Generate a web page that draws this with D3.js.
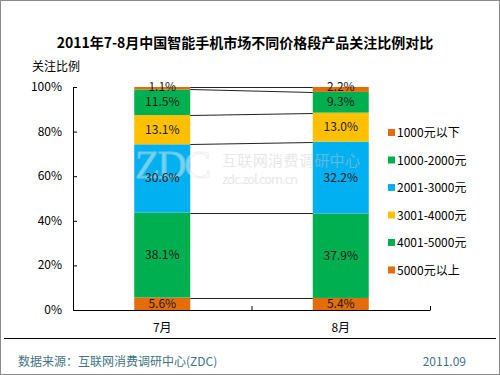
<!DOCTYPE html>
<html><head><meta charset="utf-8">
<script src="https://cdn.jsdelivr.net/npm/d3@7"></script>
<style>body{margin:0;background:#fff;}svg{display:block;}</style>
</head><body>
<script>
const categories = ["7月", "8月"];
// stack order bottom -> top
const seriesNames = ["5000元以上", "4001-5000元", "2001-3000元", "3001-4000元", "1000-2000元", "1000元以下"];
const seriesColors = ["#E46C0A", "#00B050", "#00B0F0", "#FFC000", "#00B050", "#E46C0A"];
const valuesJul = [5.6, 38.1, 30.6, 13.1, 11.5, 1.1];
const valuesAug = [5.4, 37.9, 32.2, 13.0, 9.3, 2.2];
const legendOrder = ["1000元以下", "1000-2000元", "2001-3000元", "3001-4000元", "4001-5000元", "5000元以上"];
const legendColors = ["#E46C0A", "#00B050", "#00B0F0", "#FFC000", "#00B050", "#E46C0A"];
const yTicks = [0, 20, 40, 60, 80, 100];
const title = "2011年7-8月中国智能手机市场不同价格段产品关注比例对比";
const yTitle = "关注比例";
const source = "数据来源：互联网消费调研中心(ZDC)";
const dateText = "2011.09";

const W = 500, H = 375;
const font = "'Noto Sans CJK SC', 'Liberation Sans', Arial, sans-serif";
const svg = d3.select("body").append("svg").attr("width", W).attr("height", H)
  .style("font-family", font);

svg.append("rect").attr("x", 0.5).attr("y", 0.5).attr("width", W - 1).attr("height", H - 1)
  .attr("fill", "#fff").attr("stroke", "#8a8a8a");

svg.append("text").attr("x", 245).attr("y", 48).attr("text-anchor", "middle")
  .attr("font-size", 14).attr("font-weight", "bold").attr("fill", "#000").text(title);
svg.append("text").attr("x", 32).attr("y", 71).attr("font-size", 12).attr("fill", "#000").text(yTitle);

const x = d3.scaleBand().domain(categories).range([73, 430]).paddingInner(0).paddingOuter(0);
const y = d3.scaleLinear().domain([0, 100]).range([310, 87]);
const barW = 56;

const data = [valuesJul, valuesAug];
const rows = categories.map((c, i) => {
  const o = { cat: c };
  seriesNames.forEach((s, j) => o[s] = data[i][j]);
  return o;
});
const stacked = d3.stack().keys(seriesNames)(rows);

// axes
const yAxis = svg.append("g").attr("transform", "translate(73,0)")
  .call(d3.axisRight(y).tickValues(yTicks).tickSize(4).tickFormat(""));
yAxis.select(".domain").attr("d", "M0.5," + y(0) + "V" + y(100)).attr("stroke", "#000");
yAxis.selectAll(".tick line").attr("stroke", "#000");
svg.append("g").selectAll("text").data(yTicks).join("text")
  .attr("x", 62).attr("y", d => y(d) + 4).attr("text-anchor", "end")
  .attr("font-size", 12).attr("fill", "#000").text(d => d + "%");

// bars
stacked.forEach((ser, j) => {
  svg.append("g").selectAll("rect").data(ser).join("rect")
    .attr("x", d => x(d.data.cat) + x.bandwidth() / 2 - barW / 2)
    .attr("width", barW)
    .attr("y", d => y(d[1]))
    .attr("height", d => y(d[0]) - y(d[1]))
    .attr("fill", seriesColors[j]);
});

// connector lines
stacked.forEach((ser) => {
  const a = ser[0], b = ser[1];
  svg.append("line")
    .attr("x1", x(categories[0]) + x.bandwidth() / 2 + barW / 2)
    .attr("x2", x(categories[1]) + x.bandwidth() / 2 - barW / 2)
    .attr("y1", Math.round(y(a[1])) + 0.5).attr("y2", Math.round(y(b[1])) + 0.5)
    .attr("stroke", "#222").attr("stroke-width", 1);
});

// x axis
const xAxis = svg.append("g").attr("transform", "translate(0," + y(0) + ")");
xAxis.append("path").attr("d", "M73,0.5H430.5").attr("stroke", "#000");
const xb = [73, 73 + x.bandwidth(), 430];
xAxis.selectAll("line.t").data(xb).join("line").attr("class", "t")
  .attr("x1", d => d + 0.5).attr("x2", d => d + 0.5).attr("y1", 0).attr("y2", -4).attr("stroke", "#000");
svg.append("g").selectAll("text").data(categories).join("text")
  .attr("x", d => x(d) + x.bandwidth() / 2).attr("y", 332).attr("text-anchor", "middle")
  .attr("font-size", 12).attr("fill", "#000").text(d => d);

// watermark
const wm = svg.append("g").attr("opacity", 0.45).attr("fill", "none");
wm.append("text").attr("x", 135).attr("y", 178).attr("font-size", 40)
  .attr("font-family", "'Liberation Serif', serif").attr("fill", "#fff").attr("stroke", "#ddd")
  .attr("stroke-width", 1).attr("textLength", 76).text("ZDC");
wm.append("text").attr("x", 222).attr("y", 166).attr("font-size", 15).attr("fill", "#ccc")
  .attr("textLength", 138).text("互联网消费调研中心");
wm.append("text").attr("x", 222).attr("y", 184).attr("font-size", 13).attr("fill", "#ccc")
  .attr("textLength", 76).text("zdc.zol.com.cn");

// data labels
stacked.forEach((ser) => {
  svg.append("g").selectAll("text").data(ser).join("text")
    .attr("x", d => x(d.data.cat) + x.bandwidth() / 2)
    .attr("y", d => {
      const h = y(d[0]) - y(d[1]);
      return h < 10 ? y(d[1]) + 4 : (y(d[0]) + y(d[1])) / 2 + 4;
    })
    .attr("text-anchor", "middle").attr("font-size", 12).attr("fill", "#1a1a1a")
    .text(d => (d[1] - d[0]).toFixed(1) + "%");
});

// legend
const lg = svg.append("g");
legendOrder.forEach((n, i) => {
  const cy = 133 + i * 27.5;
  lg.append("rect").attr("x", 388).attr("y", cy - 4).attr("width", 7).attr("height", 7).attr("fill", legendColors[i]);
  lg.append("text").attr("x", 397).attr("y", cy + 4).attr("font-size", 12).attr("fill", "#000").text(n);
});

// footer
svg.append("line").attr("x1", 4).attr("x2", 496).attr("y1", 338.5).attr("y2", 338.5).attr("stroke", "#000");
svg.append("text").attr("x", 18).attr("y", 366).attr("font-size", 12).attr("fill", "#3f7384").text(source);
svg.append("text").attr("x", 466).attr("y", 366).attr("text-anchor", "end").attr("font-size", 12).attr("fill", "#3f7384").text(dateText);
</script>
</body></html>
